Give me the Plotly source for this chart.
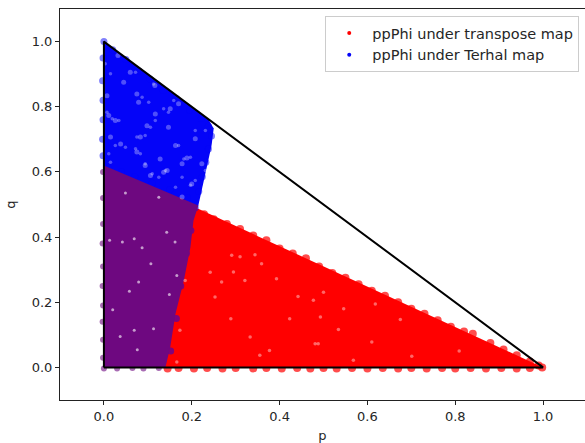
import plotly.graph_objects as go

# Outline of the regions
triangle_p = [0, 0, 1, 0]
triangle_q = [0, 1, 0, 0]

red_region_p = [0.0, 0.0, 0.226, 1.0]
red_region_q = [0.0, 0.62, 0.48, 0.0]

blue_region_p = [0.0, 0.0, 0.238, 0.25, 0.245, 0.232, 0.215, 0.2, 0.0]
blue_region_q = [0.55, 1.0, 0.762, 0.733, 0.68, 0.6, 0.497, 0.45, 0.55]

overlap_p = [0.0, 0.14, 0.151, 0.163, 0.182, 0.197, 0.204, 0.215, 0.0]
overlap_q = [0.0, 0.0, 0.062, 0.165, 0.267, 0.369, 0.451, 0.497, 0.62]

# Outermost visible points of each series
transpose_p = [0.228, 0.25, 0.28, 0.31, 0.34, 0.37, 0.40, 0.43, 0.46, 0.49, 0.52, 0.55, 0.58, 0.61,
               0.64, 0.67, 0.70, 0.73, 0.76, 0.79, 0.82, 0.84, 0.88, 0.91, 0.94, 0.97, 0.99, 0.998,
               0.145, 0.17, 0.205, 0.235, 0.27, 0.30, 0.34, 0.37, 0.405, 0.44, 0.47, 0.50, 0.53,
               0.565, 0.60, 0.635, 0.67, 0.70, 0.735, 0.77, 0.80, 0.835, 0.87, 0.905, 0.94, 0.97]
transpose_q = [0.47, 0.455, 0.44, 0.425, 0.405, 0.39, 0.365, 0.35, 0.335, 0.31, 0.29, 0.275, 0.255, 0.235,
               0.22, 0.20, 0.18, 0.165, 0.145, 0.125, 0.11, 0.103, 0.075, 0.055, 0.037, 0.018, 0.006, 0.0,
               -0.003, -0.002, -0.003, -0.002, -0.003, -0.002, -0.003, -0.002, -0.003, -0.002, -0.003,
               -0.002, -0.003, -0.002, -0.003, -0.002, -0.003, -0.002, -0.003, -0.002, -0.003, -0.002,
               -0.003, -0.002, -0.003, -0.002]

terhal_p = [0.0, 0.02, 0.05, 0.08, 0.105, 0.135, 0.165, 0.195, 0.222, 0.238, 0.245, 0.238, 0.232,
            0.224, 0.216, 0.208, 0.198, 0.188, 0.175, 0.165, 0.152, -0.002, -0.003, -0.002, -0.002,
            -0.003, -0.002, 0.01, 0.04, 0.07, 0.11, 0.15, 0.19]
terhal_q = [1.0, 0.975, 0.945, 0.91, 0.885, 0.85, 0.825, 0.79, 0.765, 0.74, 0.71, 0.67, 0.63,
            0.585, 0.54, 0.49, 0.42, 0.35, 0.25, 0.15, 0.05, 0.95, 0.88, 0.82, 0.76,
            0.70, 0.65, 0.612, 0.60, 0.585, 0.565, 0.545, 0.52]

# Points shared by both series: seen in purple along the left and bottom edges
shared_p = [0.0, 0.03, 0.065, 0.09, 0.125, -0.002, -0.002, -0.003, -0.002, -0.003, -0.002,
            -0.003, -0.002, -0.002, -0.002]
shared_q = [-0.003, -0.003, -0.002, -0.003, -0.002, 0.03, 0.085, 0.14, 0.19, 0.25, 0.31,
            0.38, 0.44, 0.52, 0.6]

# Places where the paper shows through the cloud of points
blue_gap_p = [0.032, 0.060, 0.116, 0.007, 0.079, 0.151, 0.170, 0.026, 0.098, 0.117, 0.147, 0.011, 0.038,
              0.075, 0.189, 0.136, 0.106, 0.200, 0.208, 0.083, 0.163, 0.178, 0.094, 0.015, 0.045, 0.075,
              0.144, 0.128, 0.223, 0.178]
blue_gap_q = [0.957, 0.906, 0.865, 0.834, 0.814, 0.794, 0.809, 0.758, 0.742, 0.778, 0.737, 0.773, 0.686,
              0.661, 0.643, 0.599, 0.589, 0.563, 0.702, 0.707, 0.681, 0.625, 0.620, 0.707, 0.875, 0.839,
              0.604, 0.640, 0.625, 0.523]
blue_lace_p = [0.003, 0.015, 0.072, 0.113, 0.087, 0.102, 0.136, 0.159, 0.147, 0.117, 0.106, 0.019, 0.034,
               0.007, 0.026, 0.049, 0.072, 0.083, 0.094, 0.075, 0.182, 0.197, 0.140, 0.110, 0.125, 0.197,
               0.208, 0.015, 0.011, 0.170, 0.208, 0.178, 0.163, 0.094, 0.231, 0.231]
blue_lace_q = [0.932, 0.901, 0.906, 0.870, 0.829, 0.814, 0.794, 0.819, 0.783, 0.758, 0.737, 0.763, 0.758,
               0.783, 0.681, 0.676, 0.671, 0.656, 0.712, 0.707, 0.640, 0.645, 0.604, 0.594, 0.584, 0.559,
               0.574, 0.630, 0.656, 0.681, 0.727, 0.584, 0.553, 0.625, 0.727, 0.604]
purple_gap_p = [0.042, 0.069, 0.087, 0.162, 0.143, 0.107, 0.013, 0.058, 0.149, 0.037, 0.069, 0.113, 0.076,
                0.166, 0.079, 0.020, 0.049, 0.125]
purple_gap_q = [0.385, 0.395, 0.367, 0.385, 0.415, 0.318, 0.390, 0.234, 0.224, 0.095, 0.114, 0.119, 0.054,
                0.282, 0.262, 0.177, 0.535, 0.522]
red_gap_p = [0.291, 0.310, 0.359, 0.344, 0.242, 0.268, 0.185, 0.253, 0.442, 0.423, 0.289, 0.173, 0.166,
             0.377, 0.333, 0.488, 0.393, 0.295, 0.321, 0.355, 0.534, 0.477, 0.493, 0.610, 0.618, 0.481,
             0.809, 0.675, 0.546, 0.568, 0.500, 0.701]
red_gap_q = [0.344, 0.340, 0.318, 0.346, 0.292, 0.262, 0.267, 0.216, 0.218, 0.149, 0.149, 0.114, 0.017,
             0.052, 0.093, 0.073, 0.272, 0.293, 0.267, 0.037, 0.116, 0.206, 0.155, 0.078, 0.195, 0.073,
             0.050, 0.147, 0.180, 0.022, 0.231, 0.034]

RED = "#ff0000"
BLUE = "#0404f8"
PURPLE = "#6e0880"
TEXT = "#262626"

fig = go.Figure()


def region(xs, ys, colour):
    fig.add_trace(go.Scatter(x=xs, y=ys, mode="lines", fill="toself", fillcolor=colour,
                             line=dict(width=0), showlegend=False, hoverinfo="skip"))


def points(xs, ys, colour, size, opacity):
    fig.add_trace(go.Scatter(x=xs, y=ys, mode="markers", showlegend=False, hoverinfo="skip",
                             marker=dict(color=colour, size=size, opacity=opacity, line=dict(width=0))))


region(red_region_p, red_region_q, RED)
points(transpose_p, transpose_q, RED, 8, 0.7)
region(blue_region_p, blue_region_q, BLUE)
points(terhal_p, terhal_q, BLUE, 7, 0.5)
points(shared_p, shared_q, PURPLE, 6, 0.6)
region(overlap_p, overlap_q, PURPLE)
points(blue_gap_p, blue_gap_q, "white", 5, 0.3)
points(blue_lace_p, blue_lace_q, "white", 3.5, 0.3)
points(purple_gap_p, purple_gap_q, "white", 3, 0.6)
points(red_gap_p, red_gap_q, "white", 3.5, 0.4)

fig.add_trace(go.Scatter(x=triangle_p, y=triangle_q, mode="lines",
                         line=dict(color="black", width=2), showlegend=False, hoverinfo="skip"))

for label, colour in (("ppPhi under transpose map", RED), ("ppPhi under Terhal map", BLUE)):
    fig.add_trace(go.Scatter(x=[None], y=[None], mode="markers", name=label,
                             marker=dict(color=colour, size=4)))

axis = dict(showgrid=False, zeroline=False, showline=True, linecolor="#222222", linewidth=1,
            ticks="outside", ticklen=4, tickwidth=1, tickcolor="#222222",
            tickfont=dict(size=13, color=TEXT, family="DejaVu Sans"))

fig.update_layout(
    width=585, height=443,
    margin=dict(l=60, r=0, t=9, b=43),
    paper_bgcolor="white", plot_bgcolor="white",
    font=dict(family="DejaVu Sans", size=13, color=TEXT),
    xaxis=dict(axis, range=[-0.1, 1.0955], tickmode="array", tickvals=[0, 0.2, 0.4, 0.6, 0.8, 1.0],
               ticktext=["0.0", "0.2", "0.4", "0.6", "0.8", "1.0"], mirror=True,
               title=dict(text="p", standoff=8, font=dict(size=13, color=TEXT))),
    yaxis=dict(axis, range=[-0.1, 1.1], tickmode="array", tickvals=[0, 0.2, 0.4, 0.6, 0.8, 1.0],
               ticktext=["0.0", "0.2", "0.4", "0.6", "0.8", "1.0"],
               title=dict(text="q", standoff=13, font=dict(size=13, color=TEXT))),
    legend=dict(x=0.989, y=0.982, xanchor="right", yanchor="top", bgcolor="rgba(255,255,255,0.85)",
                bordercolor="#cccccc", borderwidth=1, font=dict(size=14.5, color=TEXT),
                itemwidth=36, tracegroupgap=0),
)

fig.write_html("out.html", config={"displayModeBar": False},
               post_script="document.body.style.margin='0';document.body.style.overflow='hidden';")
